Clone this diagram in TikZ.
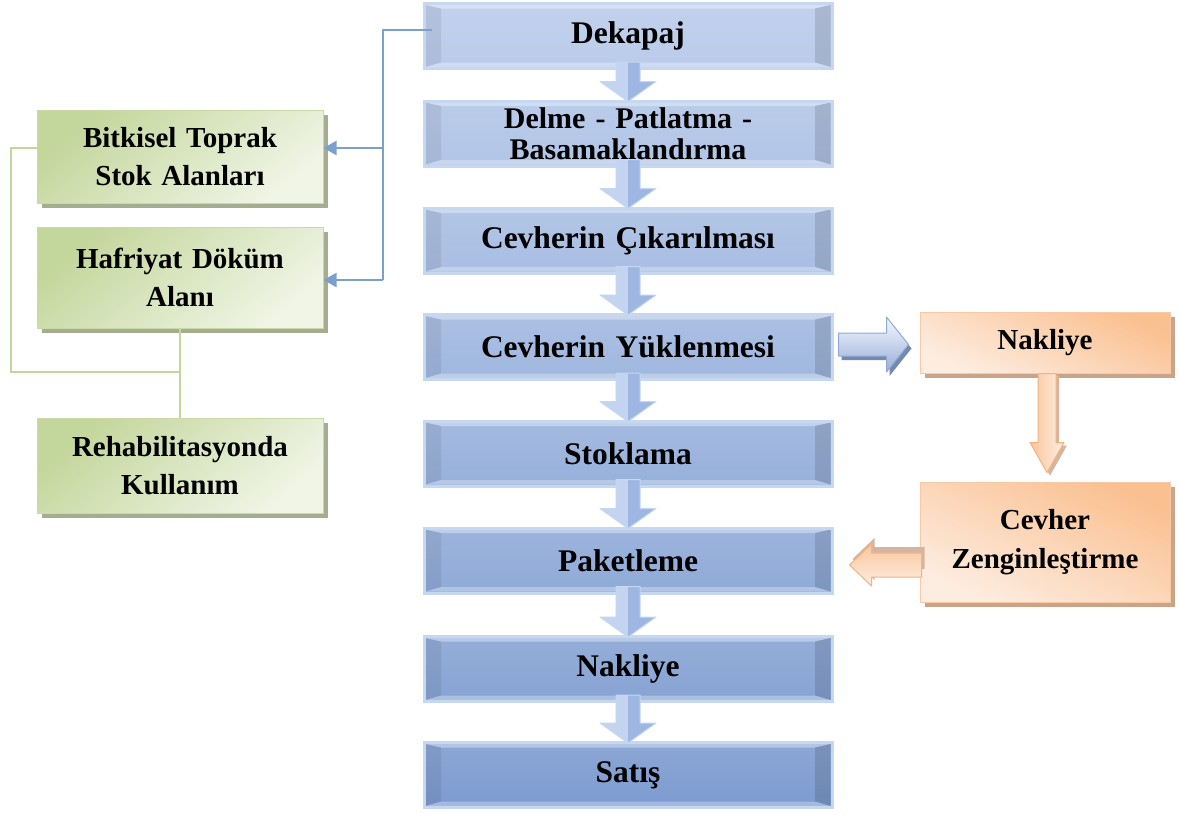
\documentclass[tikz,border=0pt]{standalone}
\usepackage{fontspec}
\setmainfont{Liberation Serif}
\usetikzlibrary{calc,arrows.meta}

\definecolor{bdark}{HTML}{7C9BCF}
\definecolor{blight}{HTML}{BDCEEC}
\definecolor{bborder}{HTML}{C5D7F1}
\definecolor{bline}{HTML}{7BA0CD}
\definecolor{gdark}{HTML}{C3D69B}
\definecolor{glight}{HTML}{F0F5E6}
\definecolor{gshadow}{HTML}{A4AD8F}
\definecolor{odark}{HTML}{FAC090}
\definecolor{olight}{HTML}{FDEDE1}
\definecolor{oshadow}{HTML}{C9A488}
\definecolor{oborder}{HTML}{F6B27E}
\definecolor{arrL}{HTML}{C3D4F1}
\definecolor{arrR}{HTML}{9DB7E2}

\tikzset{
  txt/.style={align=center, inner sep=0pt},
  bluebox/.style={txt, font=\fontsize{31.5}{28}\selectfont\bfseries,
    minimum width=408pt, minimum height=65pt, text width=400pt,
    draw=bborder, line width=3pt,
    top color=bdark!#1!blight!88!white, bottom color=bdark!#1!blight,
    path picture={
      \fill[white,opacity=.35] ([xshift=1.5pt,yshift=-1.5pt]path picture bounding box.north west) -- ([xshift=17pt,yshift=-5pt]path picture bounding box.north west) -- ([xshift=-17pt,yshift=-5pt]path picture bounding box.north east) -- ([xshift=-1.5pt,yshift=-1.5pt]path picture bounding box.north east) -- cycle;
      \fill[black,opacity=.07] ([xshift=1.5pt,yshift=-1.5pt]path picture bounding box.north west) -- ([xshift=17pt,yshift=-5pt]path picture bounding box.north west) -- ([xshift=17pt,yshift=6pt]path picture bounding box.south west) -- ([xshift=1.5pt,yshift=1.5pt]path picture bounding box.south west) -- cycle;
      \fill[black,opacity=.12] ([xshift=-1.5pt,yshift=-1.5pt]path picture bounding box.north east) -- ([xshift=-17pt,yshift=-5pt]path picture bounding box.north east) -- ([xshift=-17pt,yshift=6pt]path picture bounding box.south east) -- ([xshift=-1.5pt,yshift=1.5pt]path picture bounding box.south east) -- cycle;
      \fill[white,opacity=.30] ([xshift=1.5pt,yshift=1.5pt]path picture bounding box.south west) -- ([xshift=17pt,yshift=6pt]path picture bounding box.south west) -- ([xshift=-17pt,yshift=6pt]path picture bounding box.south east) -- ([xshift=-1.5pt,yshift=1.5pt]path picture bounding box.south east) -- cycle;
    }},
  greenbox/.style={txt, font=\fontsize{29}{38.5}\selectfont\bfseries, minimum width=286pt, text width=280pt,
    draw=gdark!90!white, line width=1pt, top color=gdark, middle color=gdark!45!glight, bottom color=glight, shading angle=40},
  orangebox/.style={txt, font=\fontsize{29}{38.5}\selectfont\bfseries, minimum width=250pt, text width=244pt,
    draw=oborder!70!white, line width=1pt, top color=odark, middle color=odark!40!olight, bottom color=olight, shading angle=-25},
  bconn/.style={draw=bline, line width=2.2pt},
  gconn/.style={draw=gdark, line width=2.2pt},
  arr/.style={-{Triangle[length=13pt,width=14pt]}},
  arrowedge/.style={draw=bborder, line width=1pt, line join=round},
  oarrowshadow/.style={fill=oshadow!80!white},
}

% fat down arrow between two main boxes: left half lighter, right half darker
\newcommand\bdarrow[2]{%
  \path[fill=arrL] let \p1=(#1.south), \p2=(#2.north) in
    (\x1-12,\y1+8) -- (\x1,\y1+8) -- (\x1,\y2-2) -- (\x1-28,\y2+18) -- (\x1-12,\y2+18) -- cycle;
  \path[fill=arrR] let \p1=(#1.south), \p2=(#2.north) in
    (\x1,\y1+8) -- (\x1+12,\y1+8) -- (\x1+12,\y2+18) -- (\x1+28,\y2+18) -- (\x1,\y2-2) -- cycle;
  \path[arrowedge] let \p1=(#1.south), \p2=(#2.north) in
    (\x1-12,\y1+8) -- (\x1+12,\y1+8) -- (\x1+12,\y2+18) -- (\x1+28,\y2+18) -- (\x1,\y2-2)
    -- (\x1-28,\y2+18) -- (\x1-12,\y2+18) -- cycle;}

\begin{document}
\begin{tikzpicture}[x=1pt,y=-1pt]
\fill[white] (0,0) rectangle (1180,814);
\useasboundingbox (0,0) rectangle (1180,814);

% ---------- green shadows and boxes
\fill[gshadow] (42,115) rectangle (328,208);
\fill[gshadow] (42,232) rectangle (328,333);
\fill[gshadow] (42,423) rectangle (328,518);
\node[greenbox, minimum height=93pt]  (bit) at (180,156.5) {Bitkisel Toprak\\Stok Alanları};
\node[greenbox, minimum height=101pt] (haf) at (180,277.5) {Hafriyat Döküm\\Alanı};
\node[greenbox, minimum height=95pt]  (reh) at (180,465.5) {Rehabilitasyonda\\Kullanım};

% ---------- orange shadows and boxes
\fill[oshadow] (925,317) rectangle (1175,378);
\fill[oshadow] (925,487) rectangle (1175,607);
\node[orangebox, minimum height=61pt]  (nak2) at (1045,342.5) {Nakliye};
\node[orangebox, minimum height=120pt] (cev)  at (1045,542) {Cevher\\Zenginleştirme};

% ---------- blue main column
\node[bluebox=5]   (dek) at (628,36)    {Dekapaj};
\node[bluebox=18, font=\fontsize{30}{30.5}\selectfont\bfseries]  (del) at (628,133.5) {Delme - Patlatma -\\Basamaklandırma};
\node[bluebox=32]  (cik) at (628,240.5) {Cevherin Çıkarılması};
\node[bluebox=45]  (yuk) at (628,347)   {Cevherin Yüklenmesi};
\node[bluebox=58]  (sto) at (628,453.5) {Stoklama};
\node[bluebox=70]  (pak) at (628,560.5) {Paketleme};
\node[bluebox=84]  (nak) at (628,669)   {Nakliye};
\node[bluebox=100] (sat) at (628,775)   {Satış};

% ---------- blue block arrows between main steps
\bdarrow{dek}{del}
\bdarrow{del}{cik}
\bdarrow{cik}{yuk}
\bdarrow{yuk}{sto}
\bdarrow{sto}{pak}
\bdarrow{pak}{nak}
\bdarrow{nak}{sat}

% ---------- horizontal blue block arrow to orange Nakliye
\begin{scope}[shift={(yuk.east)}]
  \fill[bdark!80!black!90] (8,-10) -- (56,-10) -- (56,-26) -- (78,1.5) -- (56,29) -- (56,13) -- (8,13) -- cycle;
  \path[top color=blue!3!white, bottom color=bdark!80!white, draw=bdark!85!white, line width=1pt, line join=round]
    (5,-14) -- (53,-14) -- (53,-30) -- (75,-2.5) -- (53,25) -- (53,9) -- (5,9) -- cycle;
\end{scope}

% ---------- orange down arrow
\path[oarrowshadow] let \p1=(nak2.south), \p2=(cev.north) in
  (\x1-4,\y1-2) -- (\x1+14,\y1-2) -- (\x1+14,\y2+36) -- (\x1+22,\y2+36) -- (\x1+5,\y2+6)
  -- (\x1-12,\y2+36) -- (\x1-4,\y2+36) -- cycle;
\path[left color=odark!90!white, right color=olight, draw=oborder, line width=1pt, line join=round]
  let \p1=(nak2.south), \p2=(cev.north) in
  (\x1-7,\y1) -- (\x1+11,\y1) -- (\x1+11,\y2+39) -- (\x1+19,\y2+39) -- (\x1+2,\y2+9)
  -- (\x1-15,\y2+39) -- (\x1-7,\y2+39) -- cycle;

% ---------- orange left arrow to Paketleme
\path[oarrowshadow] let \p1=(cev.west), \p2=(pak.east) in
  (\x1+5,\y1-27) -- (\x2+41,\y1-27) -- (\x2+41,\y1-38) -- (\x2+19,\y1-17) -- (\x2+41,\y1+4)
  -- (\x2+41,\y1-5) -- (\x1+5,\y1-5) -- cycle;
\path[top color=odark!90!white, bottom color=olight, draw=oborder, line width=1pt, line join=round]
  let \p1=(cev.west), \p2=(pak.east) in
  (\x1+2,\y1-35) -- (\x2+38,\y1-35) -- (\x2+38,\y1-44) -- (\x2+16,\y1-23) -- (\x2+38,\y1-2)
  -- (\x2+38,\y1-11) -- (\x1+2,\y1-11) -- cycle;

% ---------- blue thin connectors from Dekapaj
\draw[bconn] ([xshift=9pt,yshift=6pt]dek.west) -| (383,280);
\draw[bconn,arr] (383,280) -- ([yshift=-2.5pt]haf.east);
\draw[bconn,arr] (383,148) -- ([yshift=8.5pt]bit.east);

% ---------- green connectors
\draw[gconn] ([yshift=8.5pt]bit.west) -| (11,372) -| (haf.south);
\draw[gconn] (haf.south) -- (reh.north);

\end{tikzpicture}
\end{document}
